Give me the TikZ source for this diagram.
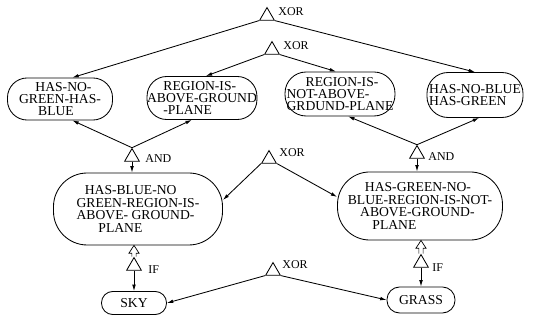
\documentclass[tikz,border=0pt]{standalone}
\usepackage{fontspec}
\setmainfont{Liberation Serif}
\usetikzlibrary{shapes.geometric,calc,arrows.meta}
\begin{document}
\begin{tikzpicture}[x=0.025cm,y=-0.025cm,
  line width=0.6pt,
  concept/.style={draw, rectangle, rounded corners=#1, inner sep=0pt,
    font=\fontsize{9.7}{8.8}\selectfont, align=left},
  gate/.style={draw, regular polygon, regular polygon sides=3,
    minimum size=12pt, inner sep=0pt},
  gatelabel/.style={font=\fontsize{8.5}{8.5}\selectfont, anchor=west, inner sep=0pt},
  link/.style={-{Latex[length=4.5pt,width=2.6pt]}},
  ifarrow/.style={line width=0.5pt, line join=miter},
]
\useasboundingbox (0,0) rectangle (540,320);

% concept nodes
\node[concept=14pt, minimum width=74.7pt, minimum height=29.9pt] (n1) at (60,99)
  {\hspace*{1.2em}HAS-NO-\\GREEN-HAS-\\\hspace*{1.4em}BLUE};
\node[concept=14pt, minimum width=73.2pt, minimum height=30.6pt] (n2) at (202,98)
  {\hspace*{1.2em}REGION-IS-\\ABOVE-GROUND\\\hspace*{1.2em}-PLANE};
\node[concept=15pt, minimum width=78.2pt, minimum height=31.3pt] (n3) at (340,94)
  {\hspace*{1.4em}REGION-IS-\\NOT-ABOVE-\\GRDUND-PLANE};
\node[concept=15pt, minimum width=68.3pt, minimum height=32pt] (n4) at (475,95)
  {HAS-NO-BLUE\\HAS-GREEN};
\node[concept=24pt, minimum width=120.2pt, minimum height=51.2pt] (n5) at (138,209)
  {\hspace*{0.6em}HAS-BLUE-NO\\GREEN-REGION-IS-\\ABOVE- GROUND-\\\hspace*{1.6em}PLANE};
\node[concept=23pt, minimum width=117.3pt, minimum height=48.4pt] (n6) at (420,206)
  {\hspace*{1.25em}HAS-GREEN-NO-\\BLUE-REGION-IS-NOT-\\\hspace*{0.9em}ABOVE-GROUND-\\\hspace*{1.8em}PLANE};
\node[concept=8pt, minimum width=46.2pt, minimum height=16.4pt, align=center] (sky) at (134,303) {SKY};
\node[concept=9pt, minimum width=48.4pt, minimum height=18.5pt, align=center] (grass) at (421,300) {GRASS};

% logic gates
\node[gate] (x1) at (267,16) {};
\node[gate] (x2) at (272,50) {};
\node[gate] (aL) at (132,157) {};
\node[gate] (aR) at (417,154) {};
\node[gate] (x3) at (269,159) {};
\node[gate] (x4) at (273,271) {};
\node[gate] (iL) at (134,266) {};
\node[gate] (iR) at (421,263) {};

% gate labels
\node[gatelabel] (lx1) at (278,12) {XOR};
\node[gatelabel] (lx2) at (283,46) {XOR};
\node[gatelabel] (laL) at (145,159) {AND};
\node[gatelabel] (laR) at (428,157) {AND};
\node[gatelabel] (lx3) at (279,153) {XOR};
\node[gatelabel] (lx4) at (282,265) {XOR};
\node[gatelabel] (liL) at (148,270) {IF};
\node[gatelabel] (liR) at (432,268) {IF};

% connectors
\draw[link] (x1.corner 2) -- (n1.60);
\draw[link] (x1.corner 3) -- (n4.north);
\draw[link] (x2.corner 2) -- (n2.80);
\draw[link] (x2.corner 3) -- (n3.100);
\draw[link] (aL.corner 1) -- (n1.-60);
\draw[link] (aL.corner 1) -- (n2.-115);
\draw[link] (aL.south) -- (aL.south |- n5.north);
\draw[link] (aR.corner 1) -- (n3.-70);
\draw[link] (aR.corner 1) -- (n4.-80);
\draw[link] (aR.south) -- (aR.south |- n6.north);
\draw[link] (x3.corner 2) -- ($(n5.east)+(0,-9)$);
\draw[link] (x3.corner 3) -- ($(n6.west)+(0,-9)$);
\draw[link] (iL.south) -- (iL.south |- sky.north);
\draw[link] (iR.south) -- (iR.south |- grass.north);
\draw[link] (x4.corner 2) -- (sky.east);
\draw[link] (x4.corner 3) -- (grass.west);

% hollow implication arrows
\draw[ifarrow] let \p1=(iL.corner 1), \p2=(n5.south) in
  (\x1-1.5pt,\y1) -- (\x1-1.5pt,\y2-5.5pt) -- (\x1-3.6pt,\y2-5.5pt) -- (\x1,\y2)
  -- (\x1+3.6pt,\y2-5.5pt) -- (\x1+1.5pt,\y2-5.5pt) -- (\x1+1.5pt,\y1);
\draw[ifarrow] let \p1=(iR.corner 1), \p2=(n6.south) in
  (\x1-1.5pt,\y1) -- (\x1-1.5pt,\y2-5.5pt) -- (\x1-3.6pt,\y2-5.5pt) -- (\x1,\y2)
  -- (\x1+3.6pt,\y2-5.5pt) -- (\x1+1.5pt,\y2-5.5pt) -- (\x1+1.5pt,\y1);
\end{tikzpicture}
\end{document}
